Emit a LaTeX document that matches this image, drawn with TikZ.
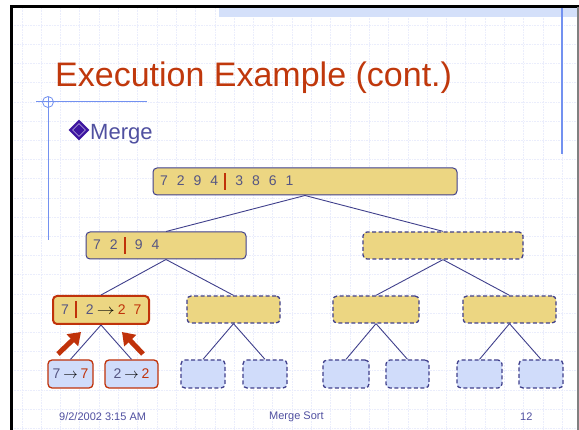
\documentclass[tikz,border=0pt]{standalone}
\usepackage{fontspec}
\setmainfont{Liberation Sans}
\usetikzlibrary{shapes.geometric,arrows.meta}

\definecolor{titlered}{RGB}{192,56,12}
\definecolor{slate}{RGB}{80,80,160}
\definecolor{digit}{RGB}{85,85,130}
\definecolor{boxfill}{RGB}{236,214,130}
\definecolor{boxline}{RGB}{64,64,140}
\definecolor{leaffill}{RGB}{208,220,250}
\definecolor{cutred}{RGB}{192,50,10}
\definecolor{gridblue}{RGB}{234,237,252}
\definecolor{ruleblue}{RGB}{115,145,240}
\definecolor{bandblue}{RGB}{212,224,250}
\definecolor{bulletpurple}{RGB}{60,20,160}

\newcommand\cut{\hspace{6pt}\textcolor{cutred}{\rule[-4pt]{2.2pt}{17pt}}\hspace{9pt}}
\newcommand\dgap{\hspace{9pt}}
\newcommand\yields[1][1]{\hspace{3pt}\textcolor{black}{\scalebox{#1}[1]{$\rightarrow$}}\hspace{3pt}}

\begin{document}
\begin{tikzpicture}[x=1pt, y=-1pt,
    every node/.style={font=\fontsize{14}{16}\selectfont, text=digit},
    sortbox/.style={draw=boxline, fill=boxfill, line width=1pt, rounded corners=4pt, minimum height=27pt, inner ysep=0pt},
    emptybox/.style={sortbox, dash pattern=on 4pt off 2.5pt, line width=1.3pt},
    leafbox/.style={emptybox, fill=leaffill, minimum height=28pt},
    donebox/.style={sortbox, draw=cutred, line width=2pt, minimum height=28pt},
    doneleaf/.style={donebox, fill=leaffill, line width=1.3pt},
    edge/.style={boxline, line width=0.9pt},
    merge/.style={cutred, line width=5pt, -{Triangle[length=12pt, width=16pt]}}]

    \useasboundingbox (0,0) rectangle (579,430);
    \fill[white] (0,0) rectangle (579,430);

    % Background grid
    \foreach \k in {0,...,29} {
        \draw[gridblue, densely dotted, line width=0.6pt] (21.8+19.3*\k, 8) -- (21.8+19.3*\k, 430);
    }
    \foreach \k in {0,...,21} {
        \draw[gridblue, densely dotted, line width=0.6pt] (12, 25.2+19.2*\k) -- (579, 25.2+19.2*\k);
    }

    % Slide frame and rules
    \fill[bandblue] (219,8.5) rectangle (579,17);
    \draw[black, line width=3pt] (11,430) -- (11,7) -- (579,7);
    \draw[gray, line width=1.5pt] (578,7) -- (578,430);
    \draw[ruleblue, line width=1.2pt] (562,8) -- (562,154);
    \draw[ruleblue, line width=1pt] (36,102) -- (147,102);
    \draw[ruleblue, line width=1pt] (48,97) -- (48,240);
    \draw[ruleblue, line width=0.8pt] (48,102) circle (5.5);

    % Title and bullet
    \node[anchor=base west, font=\fontsize{34}{40}\selectfont, text=titlered, inner sep=0] (title) at (55,87) {Execution Example (cont.)};
    \node[diamond, fill=bulletpurple, minimum size=21pt, inner sep=0] (bullet) at (79,130) {};
    \node[diamond, draw=bulletpurple!45!white, line width=0.6pt, minimum size=13pt, inner sep=0] (bulletin) at (79,130) {};
    \node[anchor=base west, font=\fontsize{22}{26}\selectfont, text=slate, inner sep=0] (merge) at (90,140) {Merge};

    % Sequence nodes
    \node[sortbox, text width=290pt, inner xsep=7pt, align=left] (root) at (305,181.5) {7\dgap2\dgap9\dgap4\cut3\dgap8\dgap6\dgap1};
    \node[sortbox, text width=146pt, inner xsep=7pt, align=left] (l1a) at (166,245.5) {7\dgap2\cut9\dgap4};
    \node[emptybox, minimum width=160pt] (l1b) at (443,245.5) {};

    \node[donebox, text width=86pt, inner xsep=5pt, align=left] (l2a) at (101,310) {\hspace{3pt}7\cut2\yields[1.25]\textcolor{cutred}{2\hspace{8pt}7}};
    \node[emptybox, minimum width=93pt] (l2b) at (233.5,309.5) {};
    \node[emptybox, minimum width=86pt] (l2c) at (376,309.5) {};
    \node[emptybox, minimum width=93pt] (l2d) at (509.5,309.5) {};

    % Leaf nodes
    \node[doneleaf, minimum width=45pt] (leaf1) at (70.5,374) {7\yields\textcolor{cutred}{7}};
    \node[doneleaf, minimum width=53pt] (leaf2) at (131.5,374) {2\yields\textcolor{cutred}{2}};
    \foreach \name/\x/\w in {leaf3/203/44, leaf4/265/44, leaf5/346/46, leaf6/407.5/43, leaf7/479.5/45, leaf8/541/44} {
        \node[leafbox, minimum width=\w pt] (\name) at (\x,374) {};
    }

    % Tree edges
    \foreach \p/\c in {root/l1a, root/l1b, l1a/l2a, l1a/l2b, l1b/l2c, l1b/l2d,
                       l2a/leaf1, l2a/leaf2, l2b/leaf3, l2b/leaf4, l2c/leaf5, l2c/leaf6, l2d/leaf7, l2d/leaf8} {
        \draw[edge] (\p.south) -- (\c.north);
    }

    % Merge arrows
    \coordinate (up1) at (58,354);
    \coordinate (up2) at (143,354);
    \draw[merge] (up1) -- (81,332) coordinate (in1);
    \draw[merge] (up2) -- (122,332) coordinate (in2);

    % Footer
    \node[font=\fontsize{11}{13}\selectfont, text=slate, anchor=west, inner sep=0] (date) at (59,417) {9/2/2002 3:15 AM};
    \node[font=\fontsize{11}{13}\selectfont, text=slate, anchor=west, inner sep=0] (topic) at (269,417) {Merge Sort};
    \node[font=\fontsize{11}{13}\selectfont, text=slate, anchor=west, inner sep=0] (page) at (520,417) {12};

\end{tikzpicture}
\end{document}
